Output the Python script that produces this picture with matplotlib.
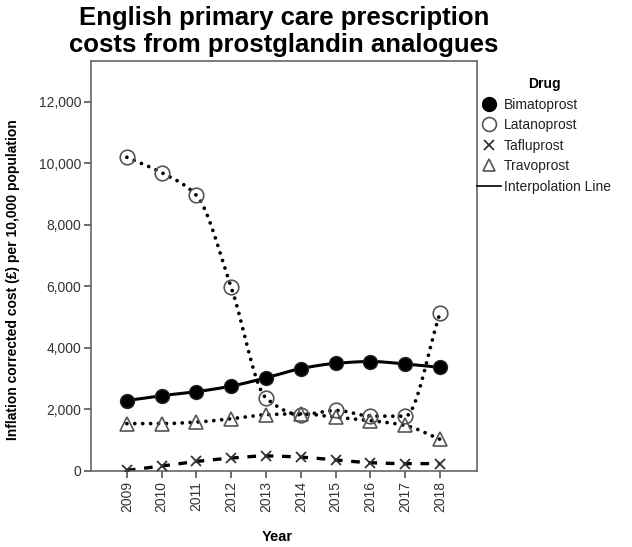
import numpy as np
import matplotlib.pyplot as plt
from matplotlib.lines import Line2D

plt.rcParams['font.family'] = ['Liberation Sans', 'DejaVu Sans']

years = [2009, 2010, 2011, 2012, 2013, 2014, 2015, 2016, 2017, 2018]
bimatoprost = [2290, 2450, 2580, 2760, 3030, 3330, 3500, 3560, 3480, 3370]
latanoprost = [10200, 9700, 8960, 5970, 2370, 1830, 1970, 1790, 1780, 5140]
tafluprost = [20, 160, 310, 420, 490, 450, 360, 270, 240, 240]
travoprost = [1540, 1540, 1590, 1700, 1830, 1860, 1750, 1640, 1480, 1030]
yticks = [0, 2000, 4000, 6000, 8000, 10000, 12000]


def pchip(x, y, xs):
    # monotone cubic interpolation for the smooth "interpolation line"
    x = np.asarray(x, float)
    y = np.asarray(y, float)
    h = np.diff(x)
    d = np.diff(y) / h
    m = np.zeros_like(y)
    m[0], m[-1] = d[0], d[-1]
    for k in range(1, len(x) - 1):
        if d[k - 1] * d[k] > 0:
            w1 = 2 * h[k] + h[k - 1]
            w2 = h[k] + 2 * h[k - 1]
            m[k] = (w1 + w2) / (w1 / d[k - 1] + w2 / d[k])
    i = np.clip(np.searchsorted(x, xs) - 1, 0, len(x) - 2)
    t = (xs - x[i]) / h[i]
    h00 = 2 * t**3 - 3 * t**2 + 1
    h10 = t**3 - 2 * t**2 + t
    h01 = -2 * t**3 + 3 * t**2
    h11 = t**3 - t**2
    return h00 * y[i] + h10 * h[i] * m[i] + h01 * y[i + 1] + h11 * h[i] * m[i + 1]


fig = plt.figure(figsize=(6.32, 5.47), dpi=100)
ax = fig.add_axes([91 / 632, 1 - 471 / 547, (477 - 91) / 632, (471 - 61) / 547])

xs = np.linspace(years[0], years[-1], 400)
dotted = (0, (0.01, 2.1))

ax.plot(xs, pchip(years, bimatoprost, xs), color='black', lw=2.2, zorder=2)
ax.plot(xs, pchip(years, latanoprost, xs), color='black', lw=2.7, ls=dotted,
        dash_capstyle='round', zorder=2)
ax.plot(xs, pchip(years, tafluprost, xs), color='black', lw=2.4, ls=(0, (2.6, 2.6)), zorder=2)
ax.plot(xs, pchip(years, travoprost, xs), color='black', lw=2.7, ls=dotted,
        dash_capstyle='round', zorder=2)

ax.plot(years, bimatoprost, ls='none', marker='o', ms=10, mfc='black', mec='#222222', zorder=3)
ax.plot(years, latanoprost, ls='none', marker='o', ms=10.5, mfc='none', mec='#555555',
        mew=1.2, zorder=3)
ax.plot(years, tafluprost, ls='none', marker='x', ms=7.5, mec='#333333', mew=1.3, zorder=3)
ax.plot(years, travoprost, ls='none', marker='^', ms=9.5, mfc='none', mec='#555555',
        mew=1.2, zorder=3)

ax.set_xlim(2007.97, 2019.06)
ax.set_ylim(0, 13330)
ax.set_xticks(years)
ax.set_xticklabels([str(y) for y in years], rotation=90, fontsize=10, color='#333333')
ax.set_yticks(yticks)
ax.set_yticklabels([f'{v:,}' for v in yticks], fontsize=10, color='#333333')
ax.tick_params(direction='out', length=5, width=1.2, color='#555555', pad=2)
for s in ax.spines.values():
    s.set_color('#666666')
    s.set_linewidth(1.2)

fig.text(284 / 632, 1 - 6 / 547,
         'English primary care prescription\ncosts from prostglandin analogues',
         ha='center', va='top', fontsize=18.5, fontweight='bold', linespacing=1.15)
fig.text(13 / 632, 1 - 280 / 547, 'Inflation corrected cost (£) per 10,000 population',
         rotation=90, ha='center', va='center', fontsize=10, fontweight='bold')
fig.text(277 / 632, 1 - 537 / 547, 'Year', ha='center', va='center',
         fontsize=10.5, fontweight='bold')

handles = [
    Line2D([], [], ls='none', marker='o', ms=10, mfc='black', mec='black'),
    Line2D([], [], ls='none', marker='o', ms=10, mfc='none', mec='#555555', mew=1.2),
    Line2D([], [], ls='none', marker='x', ms=7.5, mec='#333333', mew=1.3),
    Line2D([], [], ls='none', marker='^', ms=9, mfc='none', mec='#555555', mew=1.2),
    Line2D([], [], color='black', lw=1.2),
]
labels = ['Bimatoprost', 'Latanoprost', 'Tafluprost', 'Travoprost', 'Interpolation Line']
leg = fig.legend(handles, labels, title='Drug', loc='upper left',
                 bbox_to_anchor=(477 / 632, 1 - 77 / 547), frameon=False,
                 fontsize=10, borderpad=0, borderaxespad=0, handlelength=1.7,
                 handletextpad=0.25, labelspacing=0.47)
leg.get_title().set_fontweight('bold')
leg.get_title().set_fontsize(10)
for t in leg.get_texts():
    t.set_color('#222222')

fig.savefig('out.png', dpi=100)
